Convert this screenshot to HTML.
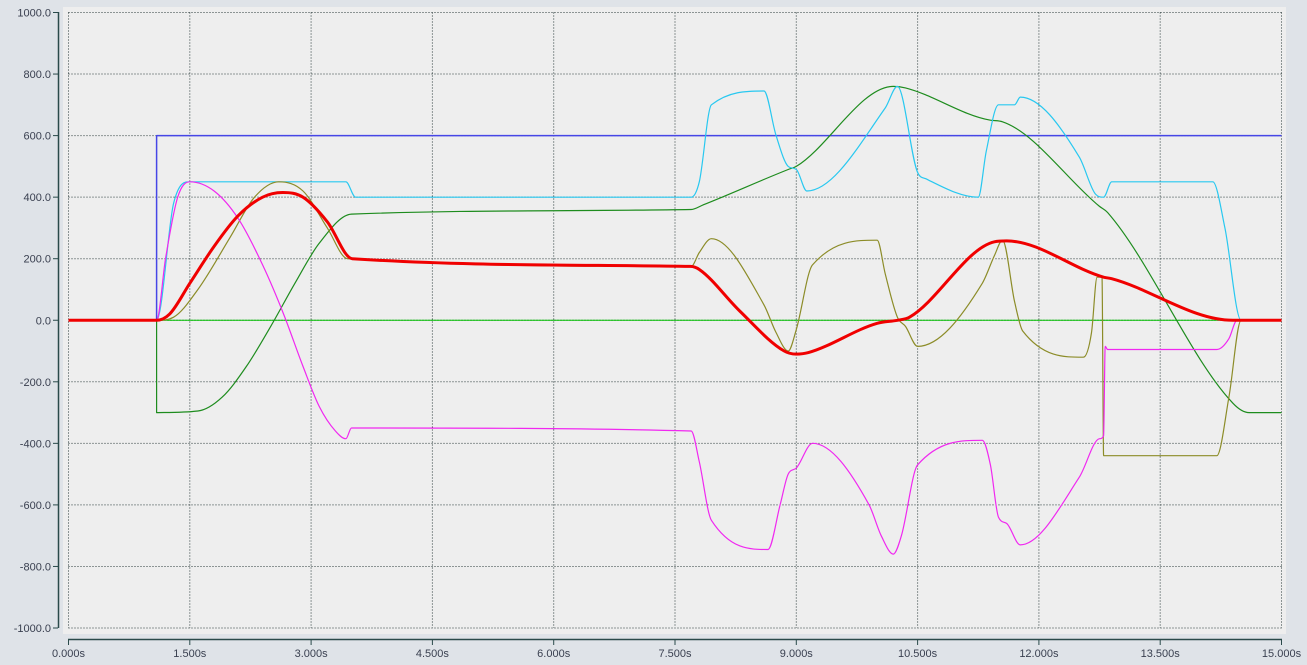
<!DOCTYPE html>
<html><head><meta charset="utf-8"><style>
html,body{margin:0;padding:0;background:#dfe3e8;}
svg{display:block;font-family:"Liberation Sans",sans-serif;}
</style></head><body>
<svg id="chart" width="1307" height="665"></svg>
<script>
const xTicks=[0,1.5,3,4.5,6,7.5,9,10.5,12,13.5,15];
const xTickLabels=["0.000s","1.500s","3.000s","4.500s","6.000s","7.500s","9.000s","10.500s","12.000s","13.500s","15.000s"];
const yTicks=[1000,800,600,400,200,0,-200,-400,-600,-800,-1000];
const yTickLabels=["1000.0","800.0","600.0","400.0","200.0","0.0","-200.0","-400.0","-600.0","-800.0","-1000.0"];
const zeroT=[0,15];const zeroV=[0,0];
const blueT=[0,1.09,1.09,15];const blueV=[0,0,600,600];
const darkGreenT=[0,1.09,1.09,1.6,1.9,2.2,2.5,2.8,3.1,3.5,7.7,7.85,8.9,9.0,10.2,10.35,11.4,11.55,12.75,12.85,14.4,14.6,15];
const darkGreenV=[0,0,-300,-295,-250,-150,-20,120,250,345,360,375,490,500,760,755,650,645,370,350,-270,-300,-300];
const cyanT=[0,1.09,1.3,1.5,3.43,3.55,7.7,7.8,7.95,8.6,8.75,8.9,9.0,9.13,10.1,10.25,10.5,10.6,11.25,11.35,11.5,11.7,11.77,12.5,12.7,12.8,12.9,14.15,14.3,14.5,15];
const cyanV=[0,0,380,450,450,400,400,450,700,745,600,500,490,420,690,760,480,460,400,550,700,700,725,530,410,400,450,450,300,0,0];
const oliveT=[0,1.09,1.3,1.6,2.0,2.3,2.6,2.9,3.2,3.45,7.7,7.8,7.95,8.6,8.75,8.9,9.0,9.2,10.0,10.1,10.25,10.35,10.5,11.3,11.45,11.55,11.7,11.8,12.55,12.65,12.72,12.78,12.8,14.2,14.35,14.5,15];
const oliveV=[0,0,10,100,270,400,450,420,300,200,175,220,265,50,-40,-100,-30,180,260,150,10,-20,-85,120,210,260,60,-35,-120,-40,140,140,-440,-440,-250,0,0];
const redT=[0,1.09,1.25,1.5,1.8,2.1,2.4,2.65,2.9,3.2,3.51,7.69,7.8,8.3,8.85,9.0,9.15,10.0,10.25,10.4,11.45,11.6,12.8,12.9,14.4,15];
const redV=[0,0,20,120,240,340,400,415,400,320,200,175,165,30,-100,-110,-105,-10,0,10,255,258,140,135,0,0];
const magentaT=[0,1.09,1.2,1.35,1.5,1.8,2.1,2.4,2.66,2.9,3.1,3.3,3.43,3.5,7.7,7.8,7.95,8.65,8.8,8.9,9.0,9.2,9.9,10.05,10.2,10.3,10.5,11.3,11.4,11.5,11.6,11.77,12.5,12.75,12.8,12.82,12.85,14.2,14.35,14.45,15];
const magentaV=[0,0,200,400,450,420,330,180,20,-150,-280,-360,-385,-350,-360,-460,-650,-745,-600,-500,-480,-400,-600,-700,-760,-700,-470,-390,-470,-640,-660,-730,-510,-385,-375,-85,-95,-95,-60,0,0];
const series=[
 {n:"zero-line",t:zeroT,v:zeroV,c:"#00c000",w:1},
 {n:"setpoint-series",t:blueT,v:blueV,c:"#4646e6",w:1.5},
 {n:"dark-green-series",t:darkGreenT,v:darkGreenV,c:"#1e8c1e",w:1.2},
 {n:"cyan-series",t:cyanT,v:cyanV,c:"#28c8f0",w:1.2},
 {n:"olive-series",t:oliveT,v:oliveV,c:"#8c8c28",w:1.2},
 {n:"magenta-series",t:magentaT,v:magentaV,c:"#f028f0",w:1.2},
 {n:"red-series",t:redT,v:redV,c:"#f00000",w:3}
];
const X0=68.5,X1=1281.5,Y0=12.5,Y1=628;
const xs=t=>X0+(t/15)*(X1-X0);
const ys=v=>Y0+(1000-v)/2000*(Y1-Y0);
const NS="http://www.w3.org/2000/svg";
const svg=document.getElementById('chart');
function mk(tag,attrs,parent){const e=document.createElementNS(NS,tag);for(const k in attrs)e.setAttribute(k,attrs[k]);(parent||svg).appendChild(e);return e;}
function monoPath(px,py){
 const n=px.length;if(n<3){return "L"+px.map((x,i)=>x.toFixed(1)+","+py[i].toFixed(1)).join(" L");}
 const d=[],m=[];
 for(let i=0;i<n-1;i++)d.push((py[i+1]-py[i])/(px[i+1]-px[i]));
 m[0]=d[0];m[n-1]=d[n-2];
 for(let i=1;i<n-1;i++){m[i]=(d[i-1]*d[i]<=0)?0:(d[i-1]+d[i])/2;}
 for(let i=0;i<n-1;i++){if(d[i]===0){m[i]=0;m[i+1]=0;continue;}const a=m[i]/d[i],b=m[i+1]/d[i],s=a*a+b*b;if(s>9){const tt=3/Math.sqrt(s);m[i]=tt*a*d[i];m[i+1]=tt*b*d[i];}}
 let p="";
 for(let i=0;i<n-1;i++){const h=(px[i+1]-px[i])/3;p+="C"+(px[i]+h).toFixed(1)+","+(py[i]+m[i]*h).toFixed(1)+" "+(px[i+1]-h).toFixed(1)+","+(py[i+1]-m[i+1]*h).toFixed(1)+" "+px[i+1].toFixed(1)+","+py[i+1].toFixed(1)+" ";}
 return p;
}
const bg=mk('rect',{x:63,y:7,width:1223,height:627,fill:"#eeeeee"});


yTicks.forEach((v,i)=>{
 const g=mk('line',{x1:X0,x2:X1,y1:ys(v),y2:ys(v),stroke:"#2a3a3a","stroke-dasharray":"1,2","stroke-width":1});
 
 
 mk('line',{x1:53,x2:58,y1:ys(v),y2:ys(v),stroke:"#2a4a4a","stroke-width":1});
 const tx=mk('text',{x:51,y:ys(v)+4,"text-anchor":"end","font-size":11,fill:"#3a4050"});
 tx.textContent=yTickLabels[i];
 
 
});
xTicks.forEach((t,i)=>{
 const g=mk('line',{x1:xs(t),x2:xs(t),y1:Y0,y2:Y1,stroke:"#2a3a3a","stroke-dasharray":"1,2","stroke-width":1});
 
 
 mk('line',{x1:xs(t),x2:xs(t),y1:639,y2:645,stroke:"#2a4a4a","stroke-width":1});
 const tx=mk('text',{x:xs(t),y:657,"text-anchor":"middle","font-size":11,fill:"#3a4050"});
 tx.textContent=xTickLabels[i];
 
 
});
const ya=mk('line',{x1:58.5,x2:58.5,y1:12,y2:628,stroke:"#2a4a4a","stroke-width":1.5});


const xa=mk('line',{x1:68,x2:1282,y1:639.5,y2:639.5,stroke:"#2a4a4a","stroke-width":1.5});


series.forEach(s=>{
 let d="";let segX=[],segY=[];
 const flush=()=>{if(segX.length){d+=(d?"L":"M")+segX[0].toFixed(1)+","+segY[0].toFixed(1)+" "+(segX.length>1?monoPath(segX,segY):"");}};
 s.t.forEach((t,i)=>{
  const x=xs(t),y=ys(s.v[i]);
  if(segX.length&&Math.abs(x-segX[segX.length-1])<0.01){flush();segX=[x];segY=[y];}
  else{segX.push(x);segY.push(y);}
 });
 flush();
 const p=mk('path',{d:d,fill:"none",stroke:s.c,"stroke-width":s.w,"stroke-linejoin":"round"});
 
 
});
</script>
</body></html>
